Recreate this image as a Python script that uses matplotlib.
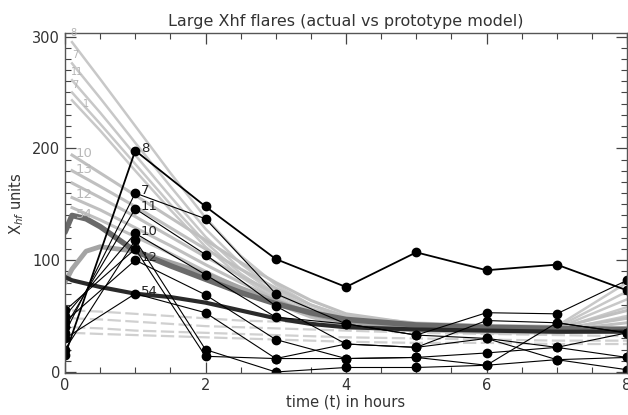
import numpy as np
import matplotlib.pyplot as plt
from matplotlib.ticker import MultipleLocator

# observed hourly values (black, with markers)
t_obs = [0, 1, 2, 3, 4, 5, 6, 7, 8]
flare_8 = [15, 198, 148, 101, 76, 107, 91, 96, 73]
flare_7 = [35, 160, 137, 70, 43, 33, 53, 52, 82]
flare_11 = [40, 146, 105, 59, 25, 22, 46, 44, 35]
flare_10 = [50, 124, 87, 49, 43, 33, 30, 22, 35]
flare_12 = [45, 100, 69, 29, 12, 13, 17, 22, 13]
flare_54 = [30, 70, 53, 12, 25, 22, 30, 11, 13]
flare_a = [20, 118, 20, 0, 4, 4, 6, 11, 2]
flare_b = [55, 110, 14, 12, 12, 13, 6, 44, 35]
observed = [flare_8, flare_7, flare_11, flare_10, flare_12, flare_54, flare_a, flare_b]
obs_labels = ['8', '7', '11', '10', '12', '54', '', '']

# prototype model curves (gray)
t_mod = [0.1, 0.5, 1, 1.5, 2, 2.5, 3, 3.5, 4, 5, 6, 7, 8]
upper_1 = [295, 262, 220, 178, 138, 104, 78, 60, 50, 44, 42, 41, 80]
upper_2 = [276, 245, 205, 166, 128, 97, 73, 57, 48, 43, 41, 40, 72]
upper_3 = [261, 232, 194, 157, 121, 92, 70, 55, 47, 42, 40, 39, 65]
upper_4 = [250, 222, 186, 150, 116, 88, 67, 53, 46, 41, 39, 38, 58]
upper_5 = [243, 216, 180, 145, 112, 85, 65, 52, 45, 40, 38, 37, 50]
lower_1 = [194, 178, 158, 138, 118, 98, 80, 64, 52, 43, 40, 39, 55]
lower_2 = [180, 166, 148, 129, 110, 92, 75, 60, 49, 41, 38, 38, 48]
lower_3 = [169, 156, 139, 121, 103, 86, 70, 56, 46, 40, 37, 37, 44]
lower_4 = [156, 145, 129, 113, 96, 80, 65, 52, 43, 38, 36, 36, 40]
lower_5 = [147, 136, 121, 106, 90, 75, 61, 49, 41, 37, 35, 35, 38]
flat_1 = [55, 54, 52, 50, 48, 46, 45, 44, 43, 41, 40, 39, 38]
flat_2 = [48, 47, 45, 43, 41, 40, 39, 38, 37, 35, 34, 33, 32]
flat_3 = [40, 39, 37, 36, 35, 34, 33, 32, 31, 30, 29, 28, 28]
flat_4 = [35, 34, 33, 32, 31, 30, 29, 28, 27, 26, 26, 25, 25]
upper = [upper_1, upper_2, upper_3, upper_4, upper_5]
lower = [lower_1, lower_2, lower_3, lower_4, lower_5]
flat = [flat_1, flat_2, flat_3, flat_4]
upper_labels = ['8', '7', '11', '7', '1']
lower_labels = ['10', '13', '', '12', '54']

# average prototype curves
t_avg = [0.0, 0.1, 0.3, 0.5, 1, 1.5, 2, 2.5, 3, 3.5, 4, 5, 6, 7, 8]
avg_mid = [80, 92, 108, 112, 108, 98, 88, 75, 63, 52, 45, 40, 38, 38, 38]
avg_dark = [125, 140, 137, 130, 108, 95, 83, 71, 61, 53, 47, 42, 40, 39, 38]
avg_black = [85, 82, 79, 76, 70, 67, 62, 55, 48, 43, 40, 38, 37, 36, 36]

fig = plt.figure(figsize=(6.28, 4.15), dpi=100)
ax = fig.add_axes([0.1035, 0.101, 0.895, 0.819])

for y in flat:
    ax.plot(t_mod, y, color='#d0d0d0', lw=1.6, ls=(0, (6, 2)))
up_dx = [0.0, 0.02, 0.0, 0.02, 0.17]
up_dy = [4, 3, 3, 2, -8]
for y, lab, dx, dy in zip(upper, upper_labels, up_dx, up_dy):
    ax.plot(t_mod, y, color='#c8c8c8', lw=1.8)
    ax.text(t_mod[0] - 0.02 + dx, y[0] + dy, lab, color='#b4b4b4', fontsize=7,
            ha='left', va='bottom', clip_on=False)
low_dy = [1, 1, 0, 3, -6]
for y, lab, dy in zip(lower, lower_labels, low_dy):
    ax.plot(t_mod, y, color='#c0c0c0', lw=2.2)
    if lab:
        ax.text(t_mod[0] + 0.05, y[0] + dy, lab, color='#b8b8b8', fontsize=9.5,
                ha='left', va='center')

ax.plot(t_avg, avg_mid, color='#a4a4a4', lw=3.5, solid_capstyle='round')
ax.plot(t_avg, avg_dark, color='#6a6a6a', lw=4, solid_capstyle='round')
ax.plot(t_avg, avg_black, color='#2a2a2a', lw=3, solid_capstyle='round')

for y, lab in zip(observed, obs_labels):
    lw = 1.3 if lab == '8' else 0.8
    ax.plot(t_obs, y, color='black', lw=lw, marker='o', ms=6,
            markerfacecolor='black', markeredgecolor='black')
    if lab:
        ax.text(t_obs[1] + 0.08, y[1] + 2, lab, color='#222222', fontsize=9.5,
                ha='left', va='center')

ax.set_xlim(0, 8)
ax.set_ylim(-1, 303)
ax.xaxis.set_major_locator(MultipleLocator(2))
ax.xaxis.set_minor_locator(MultipleLocator(0.5))
ax.yaxis.set_major_locator(MultipleLocator(100))
ax.yaxis.set_minor_locator(MultipleLocator(10))
ax.tick_params(which='both', direction='in', top=True, right=True,
               colors='#444444', labelcolor='#333333', labelsize=10.5)
ax.tick_params(which='major', length=8, width=0.9)
ax.tick_params(which='minor', length=4, width=0.8)
for s in ax.spines.values():
    s.set_color('#555555')
    s.set_linewidth(1.0)

ax.set_title('Large Xhf flares (actual vs prototype model)', fontsize=11.5,
             color='#333333', pad=5)
ax.set_xlabel('time (t) in hours', fontsize=10.5, color='#333333', labelpad=1)
ax.set_ylabel('X$_{hf}$ units', fontsize=10.5, color='#333333', labelpad=4)

fig.savefig('out.png', dpi=100)
